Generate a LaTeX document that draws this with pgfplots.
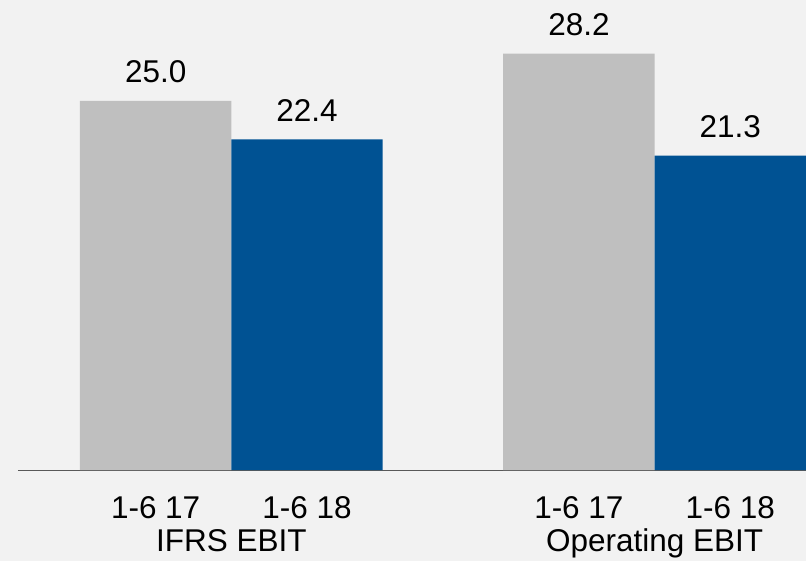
\documentclass[border=0pt]{standalone}
\usepackage{pgfplots}
\pgfplotsset{compat=1.18}
\usepackage{fontspec}
\setmainfont{Liberation Sans}

\definecolor{bgpanel}{HTML}{F2F2F2}
\definecolor{prevyear}{HTML}{BFBFBF}
\definecolor{curyear}{HTML}{005293}
\definecolor{axisline}{HTML}{595959}

\newcommand{\chartfont}{\fontsize{31.5bp}{38bp}\selectfont}

\begin{document}
\begin{tikzpicture}
% panel background
\fill[bgpanel] (-18bp,-90.5bp) rectangle (788bp,470.5bp);
\begin{axis}[
  scale only axis,
  width=788bp, height=470.5bp,
  xmin=-0.5041, xmax=1.3566,
  ymin=0, ymax=31.83,
  ybar=0pt, bar width=0.3577,
  axis x line*=bottom, axis y line=none,
  x axis line style={axisline, line width=1bp},
  xtick=\empty, ytick=\empty,
  clip=false,
  font=\chartfont,
  point meta=y,
  nodes near coords,
  every node near coord/.append style={font=\chartfont, text=black, inner sep=0pt, yshift=18bp},
  /pgf/number format/.cd, fixed, fixed zerofill, precision=1, assume math mode=true,
]
% first half-year 2017
\addplot[draw=none, fill=prevyear] coordinates {(0,25.0) (1,28.2)};
% first half-year 2018
\addplot[draw=none, fill=curyear] coordinates {(0,22.4) (1,21.3)};

% period labels under each bar
\node[anchor=base, yshift=-48.5bp] at (axis cs:-0.17885,0) {1-6 17};
\node[anchor=base, yshift=-48.5bp] at (axis cs:0.17885,0) {1-6 18};
\node[anchor=base, yshift=-48.5bp] at (axis cs:0.82115,0) {1-6 17};
\node[anchor=base, yshift=-48.5bp] at (axis cs:1.17885,0) {1-6 18};
% group labels
\node[anchor=base, yshift=-81.5bp] at (axis cs:0,0) {IFRS EBIT};
\node[anchor=base, yshift=-81.5bp] at (axis cs:1,0) {Operating EBIT};
\end{axis}
\end{tikzpicture}
\end{document}
